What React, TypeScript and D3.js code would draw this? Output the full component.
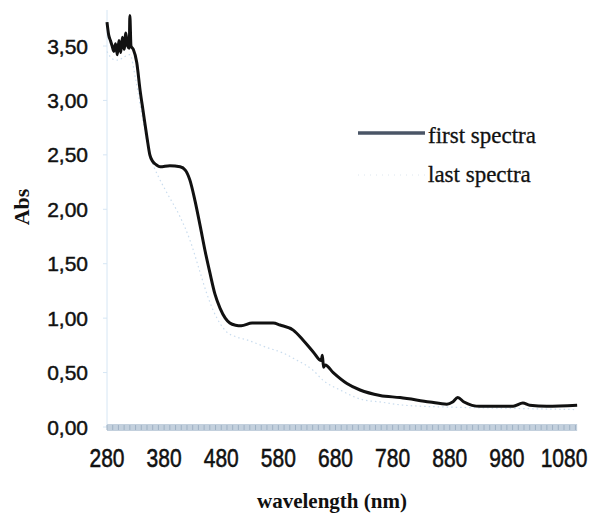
import React from "react";
import * as d3 from "d3";

const firstWl = [280,283,286,289,292,295,298,301,304,307,310,313,316,319,320,322,326,332,338,343,350,355,360,366,373,390,408,417,425,434,443,452,460,469,478,487,495,505,515,534,571,583,606,623,641,655,657,659,662,676,700,723,758,793,845,875,885,894,905,933,991,1008,1020,1050,1103];
const firstAbs = [3.72,3.60,3.55,3.50,3.45,3.52,3.42,3.55,3.44,3.58,3.47,3.62,3.50,3.48,3.78,3.50,3.47,3.35,3.09,2.91,2.66,2.50,2.44,2.41,2.39,2.40,2.39,2.36,2.27,2.08,1.85,1.61,1.42,1.22,1.09,1.00,0.955,0.935,0.93,0.955,0.955,0.937,0.89,0.80,0.69,0.61,0.66,0.55,0.57,0.50,0.40,0.34,0.29,0.27,0.23,0.21,0.23,0.27,0.23,0.19,0.19,0.22,0.20,0.19,0.20];

const lastWl = [280,290,300,310,320,330,340,350,360,370,385,408,425,443,455,466,478,490,505,525,560,588,612,641,658,688,728,758,800,900,1000,1103];
const lastAbs = [3.45,3.38,3.37,3.40,3.42,3.20,2.90,2.62,2.42,2.30,2.15,1.93,1.72,1.42,1.22,1.07,0.95,0.87,0.83,0.80,0.73,0.68,0.615,0.52,0.43,0.34,0.25,0.23,0.20,0.18,0.17,0.16];

const xTicks = [280,380,480,580,680,780,880,980,1080];
const yTicks = [0,0.5,1,1.5,2,2.5,3,3.5];
const minorX = d3.range(280, 1101, 10);

const seriesNames = ["first spectra", "last spectra"];

export default function App() {
  const x = d3.scaleLinear().domain([280, 1080]).range([107, 564]);
  const y = d3.scaleLinear().domain([0, 3.5]).range([427, 46]);
  const line = d3.line<[number, number]>().x(d => x(d[0])).y(d => y(d[1])).curve(d3.curveMonotoneX);
  const first = firstWl.map((w, i) => [w, firstAbs[i]] as [number, number]);
  const last = lastWl.map((w, i) => [w, lastAbs[i]] as [number, number]);
  const fmt = (v: number) => v.toFixed(2).replace(".", ",");
  const sans = "'Liberation Sans', Arial, sans-serif";
  const serif = "'Liberation Serif', 'Times New Roman', serif";
  return (
    <svg width={590} height={515} style={{ position: "absolute", left: 0, top: 0, background: "#fff" }}>
      {/* y axis */}
      <line x1={107} x2={107} y1={10} y2={427} stroke="#d6e6f4" strokeWidth={1} />
      {yTicks.map(t => (
        <g key={t}>
          <line x1={103} x2={107} y1={y(t)} y2={y(t)} stroke="#d6e6f4" />
          <text x={88} y={y(t)} dy="0.36em" textAnchor="end" fontFamily={sans} fontSize={21} fill="#111" stroke="#111" strokeWidth={0.45}>{fmt(t)}</text>
        </g>
      ))}
      {/* x axis band */}
      <rect x={x(280)} y={y(0) - 3} width={x(1103) - x(280)} height={7} fill="#c3d0dd" />
      {minorX.map(t => (
        <line key={t} x1={x(t)} x2={x(t)} y1={y(0) - 2} y2={y(0) + 3} stroke="#9fb1c4" strokeWidth={1} />
      ))}
      {xTicks.map(t => (
        <text key={t} transform={`translate(${x(t)},467) scale(1,1.25)`} textAnchor="middle" fontFamily={sans} fontSize={21} fill="#111" stroke="#111" strokeWidth={0.45}>{t}</text>
      ))}
      {/* series */}
      <path d={line(last) || ""} fill="none" stroke="#c9dcee" strokeWidth={1.2} strokeDasharray="1.5 3" />
      <path d={line(first) || ""} fill="none" stroke="#111" strokeWidth={3} strokeLinejoin="round" />
      {/* legend */}
      <line x1={358} x2={425} y1={133} y2={133} stroke="#4a5566" strokeWidth={3.5} />
      <text x={428} y={143} fontFamily={serif} fontSize={23} fill="#111" stroke="#111" strokeWidth={0.3}>{seriesNames[0]}</text>
      <line x1={358} x2={425} y1={175} y2={175} stroke="#dde6ee" strokeWidth={1} strokeDasharray="1 5" />
      <text x={428} y={182} fontFamily={serif} fontSize={23} fill="#111" stroke="#111" strokeWidth={0.3}>{seriesNames[1]}</text>
      {/* axis titles */}
      <text transform="translate(29,207) rotate(-90)" textAnchor="middle" fontFamily={serif} fontWeight="bold" fontSize={22} fill="#111">Abs</text>
      <text x={332} y={508} textAnchor="middle" fontFamily={serif} fontWeight="bold" fontSize={21} fill="#111">wavelength (nm)</text>
    </svg>
  );
}
